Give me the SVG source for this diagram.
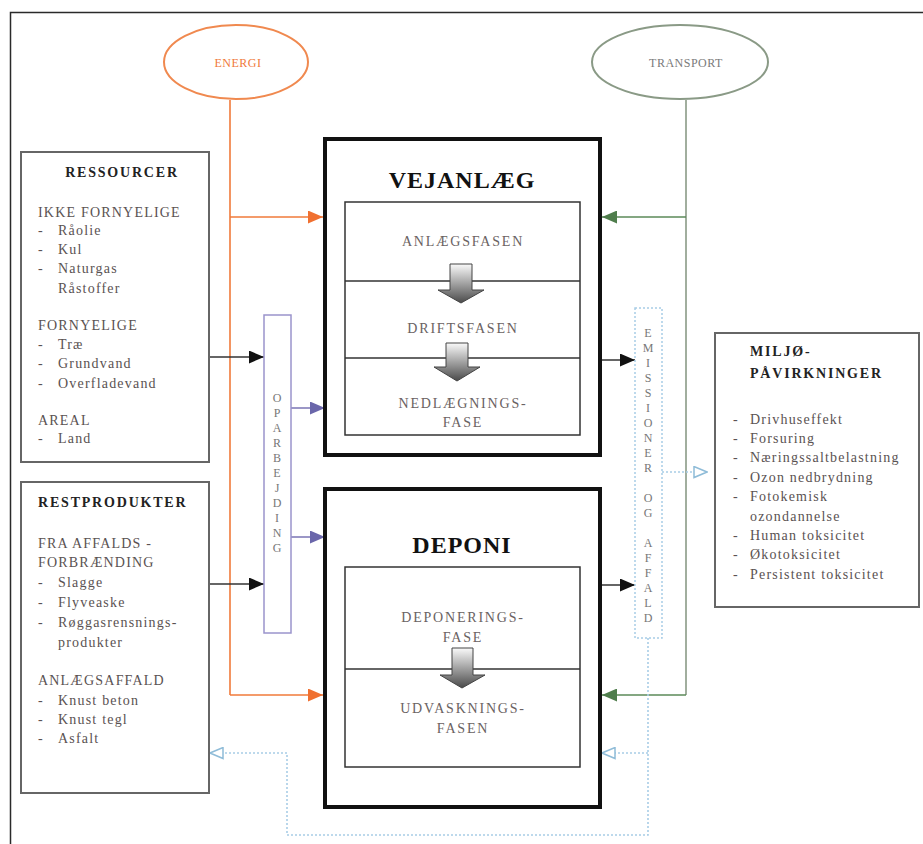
<svg xmlns="http://www.w3.org/2000/svg" width="923" height="844" viewBox="0 0 923 844">
<style>
.t{font-family:"Liberation Serif","Times New Roman",serif;font-size:14px;fill:#5a5252;letter-spacing:1.2px}
.tb{font-weight:bold;fill:#222;letter-spacing:1.8px}
.big{font-family:"Liberation Serif","Times New Roman",serif;font-size:24px;font-weight:bold;fill:#111;letter-spacing:1px;text-anchor:middle}
.ph{font-family:"Liberation Serif","Times New Roman",serif;font-size:14px;fill:#6a6262;text-anchor:middle;letter-spacing:1.8px}
.vt{font-family:"Liberation Serif","Times New Roman",serif;font-size:12px;fill:#777;text-anchor:middle}
.box{fill:#fff;stroke:#666;stroke-width:2}
.outer{fill:#fff;stroke:#111;stroke-width:4}
.inner{fill:#fff;stroke:#333;stroke-width:1.5}
.div{stroke:#333;stroke-width:1.5}
.or{stroke:#f07a3a;stroke-width:1.6;fill:none}
.gr{stroke:#8a9a86;stroke-width:1.6;fill:none}
.grd{stroke:#5b8a58;stroke-width:1.6;fill:none}
.bk{stroke:#333;stroke-width:1.6;fill:none}
.pu{stroke:#7a74b4;stroke-width:1.6;fill:none}
.bl{stroke:#a8cde6;stroke-width:1.6;fill:none;stroke-dasharray:2 2}
.blk{fill:url(#ag);stroke:#444;stroke-width:1}
</style>
<defs>
<linearGradient id="ag" x1="0" y1="0" x2="0" y2="1">
<stop offset="0" stop-color="#fafafa"/>
<stop offset="1" stop-color="#4a4a4a"/>
</linearGradient>
<marker id="mk" markerUnits="userSpaceOnUse" markerWidth="15" markerHeight="13" refX="15" refY="6.5" orient="auto"><path d="M0,0 L15,6.5 L0,13 z" fill="#111"/></marker>
<marker id="mo" markerUnits="userSpaceOnUse" markerWidth="15" markerHeight="13" refX="15" refY="6.5" orient="auto"><path d="M0,0 L15,6.5 L0,13 z" fill="#f07030"/></marker>
<marker id="mg" markerUnits="userSpaceOnUse" markerWidth="15" markerHeight="13" refX="15" refY="6.5" orient="auto"><path d="M0,0 L15,6.5 L0,13 z" fill="#4f7d4c"/></marker>
<marker id="mp" markerUnits="userSpaceOnUse" markerWidth="15" markerHeight="13" refX="15" refY="6.5" orient="auto"><path d="M0,0 L15,6.5 L0,13 z" fill="#6a66aa"/></marker>
<marker id="mb" markerUnits="userSpaceOnUse" markerWidth="15" markerHeight="13" refX="14" refY="6.5" orient="auto"><path d="M1,1 L14,6.5 L1,12 z" fill="#fff" stroke="#8fbcd8" stroke-width="1.5"/></marker>
</defs>
<rect width="923" height="844" fill="#fff"/>
<path d="M10.5,844 V12.5 H923" fill="none" stroke="#2a2a2a" stroke-width="1.5"/>

<g id="connectors">
<path class="or" d="M230,100 V695"/>
<path class="or" d="M230,217 H323" marker-end="url(#mo)"/>
<path class="or" d="M230,695 H323" marker-end="url(#mo)"/>
<path class="gr" d="M686,100 V695"/>
<path class="grd" d="M686,217 H602" marker-end="url(#mg)"/>
<path class="grd" d="M686,695 H602" marker-end="url(#mg)"/>
<path class="bk" d="M209,357 H264" marker-end="url(#mk)"/>
<path class="bk" d="M209,584 H264" marker-end="url(#mk)"/>
<path class="bk" d="M600,360 H635" marker-end="url(#mk)"/>
<path class="bk" d="M600,585 H635" marker-end="url(#mk)"/>
<path class="pu" d="M291,408 H325" marker-end="url(#mp)"/>
<path class="pu" d="M291,537 H325" marker-end="url(#mp)"/>
<path class="bl" d="M662,472 H707" marker-end="url(#mb)"/>
<path class="bl" d="M648,638 V835 H287 V753 H210" marker-end="url(#mb)"/>
<path class="bl" d="M648,753 H602" marker-end="url(#mb)"/>
</g>

<g id="energi">
<ellipse cx="236" cy="62" rx="72" ry="37" fill="#fff" stroke="#f0894f" stroke-width="2"/>
<text x="238" y="67" text-anchor="middle" font-family="Liberation Serif, Times New Roman, serif" font-size="12" fill="#f07a3a" letter-spacing="0.5">ENERGI</text>
</g>

<g id="transport">
<ellipse cx="680" cy="62" rx="88" ry="37" fill="#fff" stroke="#8a9a86" stroke-width="2"/>
<text x="686" y="67" text-anchor="middle" font-family="Liberation Serif, Times New Roman, serif" font-size="12" fill="#7a7a7a" letter-spacing="0.5">TRANSPORT</text>
</g>

<g id="ressourcer">
<rect class="box" x="21" y="152" width="188" height="310"/>
<text class="t tb" x="122" y="177" text-anchor="middle">RESSOURCER</text>
<text class="t" x="38" y="217">IKKE FORNYELIGE</text>
<text class="t" x="38" y="235">-</text><text class="t" x="58" y="235">Råolie</text>
<text class="t" x="38" y="254">-</text><text class="t" x="58" y="254">Kul</text>
<text class="t" x="38" y="273">-</text><text class="t" x="58" y="273">Naturgas</text>
<text class="t" x="58" y="293">Råstoffer</text>
<text class="t" x="38" y="330">FORNYELIGE</text>
<text class="t" x="38" y="349">-</text><text class="t" x="58" y="349">Træ</text>
<text class="t" x="38" y="368">-</text><text class="t" x="58" y="368">Grundvand</text>
<text class="t" x="38" y="388">-</text><text class="t" x="58" y="388">Overfladevand</text>
<text class="t" x="38" y="425">AREAL</text>
<text class="t" x="38" y="443">-</text><text class="t" x="58" y="443">Land</text>
</g>

<g id="restprodukter">
<rect class="box" x="21" y="482" width="188" height="311"/>
<text class="t tb" x="38" y="507">RESTPRODUKTER</text>
<text class="t" x="38" y="548">FRA AFFALDS -</text>
<text class="t" x="38" y="567">FORBRÆNDING</text>
<text class="t" x="38" y="587">-</text><text class="t" x="58" y="587">Slagge</text>
<text class="t" x="38" y="607">-</text><text class="t" x="58" y="607">Flyveaske</text>
<text class="t" x="38" y="627">-</text><text class="t" x="58" y="627">Røggasrensnings-</text>
<text class="t" x="58" y="647">produkter</text>
<text class="t" x="38" y="685">ANLÆGSAFFALD</text>
<text class="t" x="38" y="705">-</text><text class="t" x="58" y="705">Knust beton</text>
<text class="t" x="38" y="724">-</text><text class="t" x="58" y="724">Knust tegl</text>
<text class="t" x="38" y="743">-</text><text class="t" x="58" y="743">Asfalt</text>
</g>

<g id="oparbejding">
<rect x="264" y="315" width="27" height="318" fill="#fff" stroke="#9a94cc" stroke-width="1.5"/>
<text class="vt"><tspan x="277" y="402">O</tspan><tspan x="277" dy="15">P</tspan><tspan x="277" dy="15">A</tspan><tspan x="277" dy="15">R</tspan><tspan x="277" dy="15">B</tspan><tspan x="277" dy="15">E</tspan><tspan x="277" dy="15">J</tspan><tspan x="277" dy="15">D</tspan><tspan x="277" dy="15">I</tspan><tspan x="277" dy="15">N</tspan><tspan x="277" dy="15">G</tspan></text>
</g>

<g id="vejanlaeg">
<rect class="outer" x="325" y="139" width="275" height="316"/>
<text class="big" x="462" y="188">VEJANLÆG</text>
<rect class="inner" x="345" y="202" width="235" height="233"/>
<line class="div" x1="345" y1="281" x2="580" y2="281"/>
<line class="div" x1="345" y1="358" x2="580" y2="358"/>
<text class="ph" x="463" y="246">ANLÆGSFASEN</text>
<text class="ph" x="463" y="333">DRIFTSFASEN</text>
<text class="ph" x="463" y="408">NEDLÆGNINGS-</text>
<text class="ph" x="463" y="427">FASE</text>
<path class="blk" d="M450,264 H472 V290 H484 L461,303 L438,290 H450 Z"/>
<path class="blk" d="M446,343 H468 V367 H480 L457,381 L434,367 H446 Z"/>
</g>

<g id="deponi">
<rect class="outer" x="325" y="489" width="275" height="318"/>
<text class="big" x="462" y="553">DEPONI</text>
<rect class="inner" x="345" y="567" width="235" height="200"/>
<line class="div" x1="345" y1="669" x2="580" y2="669"/>
<text class="ph" x="463" y="622">DEPONERINGS-</text>
<text class="ph" x="463" y="642">FASE</text>
<text class="ph" x="463" y="713">UDVASKNINGS-</text>
<text class="ph" x="463" y="733">FASEN</text>
<path class="blk" d="M452,648 H473 V675 H485 L462,688 L440,675 H452 Z"/>
</g>

<g id="emissioner">
<rect x="635" y="308" width="27" height="330" fill="#fff" stroke="#a8cde6" stroke-width="1.5" stroke-dasharray="2 2"/>
<text class="vt"><tspan x="648" y="337">E</tspan><tspan x="648" dy="15">M</tspan><tspan x="648" dy="15">I</tspan><tspan x="648" dy="15">S</tspan><tspan x="648" dy="15">S</tspan><tspan x="648" dy="15">I</tspan><tspan x="648" dy="15">O</tspan><tspan x="648" dy="15">N</tspan><tspan x="648" dy="15">E</tspan><tspan x="648" dy="15">R</tspan><tspan x="648" dy="30">O</tspan><tspan x="648" dy="15">G</tspan><tspan x="648" dy="30">A</tspan><tspan x="648" dy="15">F</tspan><tspan x="648" dy="15">F</tspan><tspan x="648" dy="15">A</tspan><tspan x="648" dy="15">L</tspan><tspan x="648" dy="15">D</tspan></text>
</g>

<g id="miljo">
<rect class="box" x="715" y="333" width="204" height="274"/>
<text class="t tb" x="750" y="356">MILJØ-</text>
<text class="t tb" x="750" y="378">PÅVIRKNINGER</text>
<text class="t" x="733" y="424">-</text><text class="t" x="750" y="424">Drivhuseffekt</text>
<text class="t" x="733" y="443">-</text><text class="t" x="750" y="443">Forsuring</text>
<text class="t" x="733" y="462">-</text><text class="t" x="750" y="462">Næringssaltbelastning</text>
<text class="t" x="733" y="482">-</text><text class="t" x="750" y="482">Ozon nedbrydning</text>
<text class="t" x="733" y="501">-</text><text class="t" x="750" y="501">Fotokemisk</text>
<text class="t" x="750" y="521">ozondannelse</text>
<text class="t" x="733" y="540">-</text><text class="t" x="750" y="540">Human toksicitet</text>
<text class="t" x="733" y="559">-</text><text class="t" x="750" y="559">Økotoksicitet</text>
<text class="t" x="733" y="579">-</text><text class="t" x="750" y="579">Persistent toksicitet</text>
</g>
</svg>
